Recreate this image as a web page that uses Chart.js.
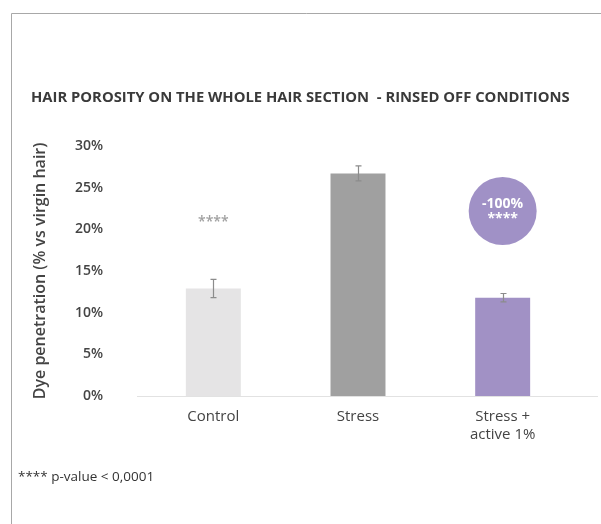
<!DOCTYPE html>
<html>
<head>
<meta charset="utf-8">
<script src="https://cdn.jsdelivr.net/npm/chart.js@4.4.1/dist/chart.umd.min.js"></script>
<style>
  html, body { margin: 0; padding: 0; background: #fff; }
  #wrap { position: relative; width: 601px; height: 524px; }
</style>
</head>
<body>
<div id="wrap"><canvas id="myChart"></canvas></div>
<script>
const categories = [['Control'], ['Stress'], ['Stress +', 'active 1%']];
const porosity = [12.9, 26.7, 11.8];
const errors = [1.1, 0.9, 0.5];
const barColors = ['#e5e4e5', '#a0a0a0', '#a191c5'];
const yTicks = [0, 5, 10, 15, 20, 25, 30];

const FONT = '"Open Sans", Lato, sans-serif';

// frame, baseline, error bars and the annotations
const extras = {
  id: 'extras',
  beforeDraw(chart) {
    const c = chart.ctx;
    c.save();
    c.fillStyle = '#fff';
    c.fillRect(0, 0, chart.width, chart.height);
    c.strokeStyle = '#a8a8a8';
    c.lineWidth = 1;
    c.beginPath();
    c.moveTo(11.5, chart.height);
    c.lineTo(11.5, 13.5);
    c.lineTo(chart.width, 13.5);
    c.stroke();
    c.restore();
  },
  afterDatasetsDraw(chart) {
    const c = chart.ctx;
    const x = chart.scales.x, y = chart.scales.y;
    const meta = chart.getDatasetMeta(0);
    c.save();

    // baseline
    const y0 = Math.round(y.getPixelForValue(0)) + 0.5;
    c.strokeStyle = '#e2e2e2';
    c.beginPath();
    c.moveTo(137, y0);
    c.lineTo(598, y0);
    c.stroke();

    // error bars
    c.strokeStyle = '#8c8c8c';
    c.lineWidth = 1.2;
    meta.data.forEach((bar, i) => {
      const bx = Math.round(bar.x) + 0.5;
      const t = y.getPixelForValue(porosity[i] + errors[i]);
      const b = y.getPixelForValue(porosity[i] - errors[i]);
      c.beginPath();
      c.moveTo(bx, t); c.lineTo(bx, b);
      c.moveTo(bx - 3, t); c.lineTo(bx + 3, t);
      c.moveTo(bx - 3, b); c.lineTo(bx + 3, b);
      c.stroke();
    });

    c.textAlign = 'center';
    c.textBaseline = 'middle';

    // significance above control
    c.fillStyle = '#a0a0a0';
    c.font = '600 14px ' + FONT;
    c.fillText('****', x.getPixelForValue(0), y.getPixelForValue(20.9));

    // purple badge
    const cx = x.getPixelForValue(2), cy = y.getPixelForValue(22.2);
    c.fillStyle = '#a091c6';
    c.beginPath();
    c.arc(cx, cy, 34, 0, Math.PI * 2);
    c.fill();
    c.fillStyle = '#fff';
    c.font = 'bold 14px ' + FONT;
    c.fillText('-100%', cx, cy - 7);
    c.font = 'bold 14px ' + FONT;
    c.fillText('****', cx, cy + 8);

    // footnote
    c.textAlign = 'left';
    c.fillStyle = '#333';
    c.font = '13.5px ' + FONT;
    c.fillText('**** p-value < 0,0001', 18, 477);

    c.restore();
  }
};

new Chart(document.getElementById('myChart'), {
  type: 'bar',
  data: {
    labels: categories,
    datasets: [{
      data: porosity,
      backgroundColor: barColors,
      borderWidth: 0,
      barPercentage: 0.38,
      categoryPercentage: 1
    }]
  },
  options: {
    responsive: true,
    maintainAspectRatio: false,
    animation: false,
    layout: { padding: { left: 31, right: 26, top: 0, bottom: 0 } },
    plugins: {
      legend: { display: false },
      tooltip: { enabled: false },
      title: {
        display: true,
        text: 'HAIR POROSITY ON THE WHOLE HAIR SECTION  - RINSED OFF CONDITIONS',
        align: 'start',
        color: '#3a3a3a',
        font: { family: FONT, size: 14.8, weight: 'bold' },
        padding: { top: 89.1, bottom: 39.1 }
      }
    },
    scales: {
      x: {
        grid: { display: false, drawTicks: false },
        border: { display: false },
        ticks: {
          color: '#444',
          font: { family: FONT, size: 15, weight: 500, lineHeight: 1.2 },
          padding: 12,
          maxRotation: 0
        },
        afterFit(s) { s.height = 128; }
      },
      y: {
        min: 0,
        max: 30,
        grid: { display: false, drawTicks: false },
        border: { display: false },
        afterBuildTicks(s) { s.ticks = yTicks.map(v => ({ value: v })); },
        ticks: {
          color: '#444',
          font: { family: FONT, size: 14, weight: 600 },
          padding: 38,
          callback: v => v + '%'
        },
        title: {
          display: true,
          text: 'Dye penetration (% vs virgin hair)',
          color: '#444',
          font: { family: FONT, size: 16, weight: 600 },
          padding: { top: 0, bottom: 0 }
        },
        afterFit(s) { s.width = 110; }
      }
    }
  },
  plugins: [extras]
});
</script>
</body>
</html>
